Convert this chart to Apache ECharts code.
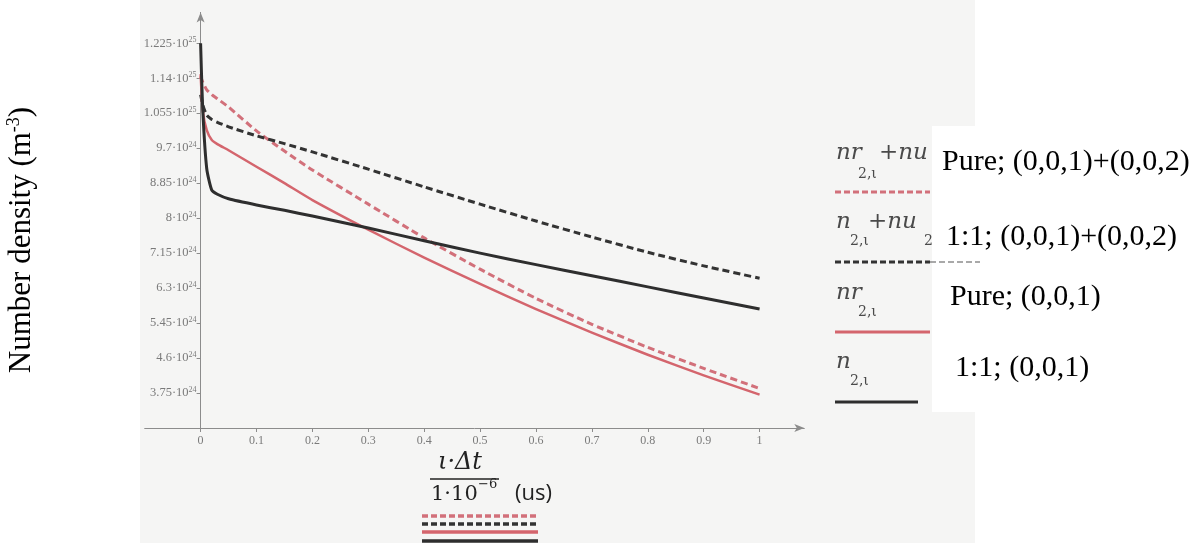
<!DOCTYPE html>
<html>
<head>
<meta charset="utf-8">
<script src="https://cdn.jsdelivr.net/npm/echarts@6/dist/echarts.min.js"></script>
<style>
  html, body { margin: 0; padding: 0; background: #fff; }
  #chart { width: 1201px; height: 543px; }
</style>
</head>
<body>
<div id="chart"></div>
<script>
// Time axis (us) and number densities in units of 1e24 m^-3
const TIME = [0, 0.004, 0.011, 0.02, 0.03, 0.05, 0.1, 0.15, 0.2, 0.3, 0.4, 0.5, 0.6, 0.7, 0.8, 0.9, 1.0];
const NR_NU = [11.45, 11.3, 11.12, 11.0, 10.9, 10.7, 10.12, 9.63, 9.17, 8.34, 7.52, 6.76, 6.05, 5.42, 4.86, 4.35, 3.86];
const N_NU2 = [11.0, 10.75, 10.5, 10.4, 10.33, 10.22, 10.0, 9.81, 9.61, 9.19, 8.76, 8.34, 7.93, 7.54, 7.17, 6.84, 6.54];
const NR2 = [11.5, 10.6, 10.14, 9.9, 9.8, 9.65, 9.25, 8.85, 8.44, 7.72, 7.04, 6.4, 5.79, 5.22, 4.68, 4.18, 3.71];
const N2 = [12.25, 10.6, 9.2, 8.68, 8.58, 8.47, 8.32, 8.19, 8.05, 7.76, 7.45, 7.15, 6.87, 6.6, 6.33, 6.06, 5.79];

const X_TICKS = [0, 0.1, 0.2, 0.3, 0.4, 0.5, 0.6, 0.7, 0.8, 0.9, 1];
const Y_TICKS = [3.75, 4.6, 5.45, 6.3, 7.15, 8, 8.85, 9.7, 10.55, 11.4, 12.25];

const LEGEND_TEXT = ['Pure; (0,0,1)+(0,0,2)', '1:1; (0,0,1)+(0,0,2)', 'Pure; (0,0,1)', '1:1; (0,0,1)'];
const Y_TITLE = 'Number density (m';

const RED = '#d4656d';
const RED_DASH = '#d2707a';
const DARK = '#2e2e2e';
const AXIS_GRAY = '#8c8c8c';
const LABEL_GRAY = '#7a7a7a';

// plot area: x from -0.1 to 1.08, y from 2.9e24 to 13e24
const GRID = { left: 144.7, right: 396.7, top: 12.4, bottom: 115 };
const X_MIN = -0.1, X_MAX = 1.08;
// the vertical axis sits on t = 0
const Y_AXIS_SHIFT = (0 - X_MIN) / (X_MAX - X_MIN) * (1201 - GRID.left - GRID.right);

function pairs(ys) { return TIME.map((t, i) => [t, ys[i]]); }

function fmtY(v) {
  const e = v >= 10 ? 25 : 24;
  const m = +(v / Math.pow(10, e - 24)).toFixed(4);
  return '{m|' + m + '\u00b710}{s|' + e + '}';
}

const chart = echarts.init(document.getElementById('chart'), null, { renderer: 'canvas' });

const mathFont = 'italic 23px "DejaVu Serif"';
const subFont = '14px "DejaVu Serif"';
const txtFont = '30px "Liberation Serif"';

function mathText(x, y, text, font) {
  return { type: 'text', left: x, top: y, z: 10, style: { text: text, font: font || mathFont, fill: '#4a4a4a' } };
}
function legendText(x, y, text) {
  return { type: 'text', x: x, y: y, z: 10, style: { text: text, font: txtFont, fill: '#000', verticalAlign: 'middle' } };
}
function hline(x1, x2, y, color, width, dash) {
  return { type: 'line', z: 10, shape: { x1: x1, y1: y, x2: x2, y2: y },
    style: { stroke: color, lineWidth: width, lineDash: dash || null } };
}
function curve(name, ys, color, width, type, z) {
  return { name: name, type: 'line', data: pairs(ys), showSymbol: false, smooth: 0.2, z: z,
    lineStyle: { color: color, width: width, type: type || 'solid', cap: 'butt', join: 'round' } };
}

const option = {
  animation: false,
  backgroundColor: '#ffffff',
  grid: Object.assign({ containLabel: false }, GRID),
  xAxis: {
    type: 'value', min: X_MIN, max: X_MAX,
    axisLine: { onZero: false, symbol: ['none', 'arrow'], symbolSize: [6, 10],
      lineStyle: { color: AXIS_GRAY, width: 1 } },
    axisTick: { customValues: X_TICKS, length: 4, lineStyle: { color: AXIS_GRAY } },
    axisLabel: { customValues: X_TICKS, color: LABEL_GRAY, fontFamily: 'Liberation Serif', fontSize: 12, margin: 7 },
    splitLine: { show: false }
  },
  yAxis: {
    type: 'value', min: 2.9, max: 13.0,
    offset: -Y_AXIS_SHIFT,
    axisLine: { onZero: false, symbol: ['none', 'arrow'], symbolSize: [6, 10],
      lineStyle: { color: AXIS_GRAY, width: 1 } },
    axisTick: { customValues: Y_TICKS, length: 4, lineStyle: { color: AXIS_GRAY } },
    axisLabel: {
      customValues: Y_TICKS, margin: 4, formatter: fmtY,
      rich: {
        m: { color: LABEL_GRAY, fontFamily: 'Liberation Serif', fontSize: 12.5, lineHeight: 15 },
        s: { color: LABEL_GRAY, fontFamily: 'Liberation Serif', fontSize: 8, lineHeight: 8, verticalAlign: 'top' }
      }
    },
    splitLine: { show: false }
  },
  series: [
    curve('nr2+nu', NR_NU, RED_DASH, 3, [7, 4], 2),
    curve('n2+nu2', N_NU2, '#333', 3, [7, 4], 2),
    curve('nr2', NR2, RED, 2.5, 'solid', 3),
    curve('n2', N2, DARK, 3, 'solid', 4)
  ],
  graphic: [
    // paper tone behind the plot and the symbol key
    { type: 'rect', z: -10, shape: { x: 140, y: 0, width: 835, height: 543 }, style: { fill: '#f5f5f4' } },
    { type: 'rect', z: -9, shape: { x: 932, y: 126, width: 269, height: 286 }, style: { fill: '#ffffff' } },

    // y axis title
    { type: 'text', x: 22, y: 240, rotation: Math.PI / 2, z: 10,
      style: { text: '{a|' + Y_TITLE + '}{b|-3}{a|)}', align: 'center', verticalAlign: 'middle',
        rich: { a: { font: '31px "Liberation Serif"', fill: '#000', lineHeight: 34 },
                b: { font: '18px "Liberation Serif"', fill: '#000', lineHeight: 18, verticalAlign: 'top' } } } },

    // x axis title as a fraction
    { type: 'text', x: 460, y: 463, z: 10, style: { text: '\u03b9\u00b7\u0394t', font: 'italic 24px "DejaVu Serif"', fill: '#222', align: 'center', verticalAlign: 'middle' } },
    hline(430, 499, 479, '#222', 1.5),
    { type: 'text', x: 431, y: 495, z: 10, style: { text: '1\u00b710', font: '21px "DejaVu Serif"', fill: '#222', verticalAlign: 'middle' } },
    { type: 'text', x: 478, y: 485, z: 10, style: { text: '\u22126', font: '13px "DejaVu Serif"', fill: '#222', verticalAlign: 'middle' } },
    { type: 'text', x: 515, y: 494, z: 10, style: { text: '(us)', font: '22px "Open Sans"', fill: '#222', verticalAlign: 'middle' } },
    hline(422, 538, 516, RED_DASH, 3.5, [6, 3]),
    hline(422, 538, 524, '#333', 3.5, [6, 3]),
    hline(422, 538, 532, RED, 3.5),
    hline(422, 538, 541, DARK, 3.5),

    // series key
    mathText(836, 142, 'nr'), mathText(858, 167, '2,\u03b9', subFont), mathText(879, 142, '+nu'),
    legendText(942, 162, LEGEND_TEXT[0]),
    hline(835, 930, 192, RED_DASH, 3, [6, 3]),

    mathText(836, 211, 'n'), mathText(850, 234, '2,\u03b9', subFont), mathText(868, 211, '+nu'), mathText(924, 234, '2', subFont),
    legendText(946, 237, LEGEND_TEXT[1]),
    hline(835, 930, 262, '#333', 3, [6, 3]),
    hline(930, 980, 262, '#555', 1.2, [6, 3]),

    mathText(836, 282, 'nr'), mathText(858, 305, '2,\u03b9', subFont),
    legendText(950, 297, LEGEND_TEXT[2]),
    hline(835, 930, 332, RED, 3),

    mathText(836, 351, 'n'), mathText(850, 374, '2,\u03b9', subFont),
    legendText(955, 368, LEGEND_TEXT[3]),
    hline(835, 918, 402, DARK, 3)
  ]
};

chart.setOption(option);
</script>
</body>
</html>
